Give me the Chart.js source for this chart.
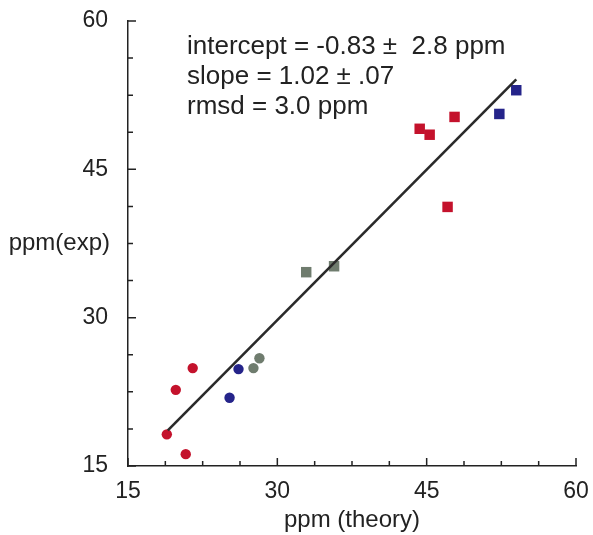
<!DOCTYPE html>
<html>
<head>
<meta charset="utf-8">
<script src="https://cdn.jsdelivr.net/npm/chart.js@4/dist/chart.umd.min.js"></script>
<style>
  html, body { margin: 0; padding: 0; background: #fff; }
  #grafico { display: block; }
</style>
</head>
<body>
<canvas id="grafico" width="593" height="535"></canvas>
<script>
/* ============================
   DATI
============================ */

// ppm (theory) / ppm (exp)
const redCircleX = [18.9, 19.8, 21.5, 20.8];
const redCircleY = [18.2, 22.7, 24.9, 16.2];
const blueCircleX = [25.2, 26.1];
const blueCircleY = [21.9, 24.8];
const grayCircleX = [27.6, 28.2];
const grayCircleY = [24.9, 25.9];

const graySquareX = [32.9, 35.7];
const graySquareY = [34.6, 35.2];
const redSquareX = [44.3, 45.3, 47.8, 47.1];
const redSquareY = [49.1, 48.5, 50.3, 41.2];
const blueSquareX = [52.3, 54.0];
const blueSquareY = [50.6, 53.0];

// fitted line, end points
const fitX = [19.0, 54.0];
const fitY = [18.6, 54.1];

const axisMin = 15;
const axisMax = 60;
const majorTicks = [15, 30, 45, 60];
const minorStep = 3.75;

const fitText = [
  'intercept = -0.83 \u00b1  2.8 ppm',
  'slope = 1.02 \u00b1 .07',
  'rmsd = 3.0 ppm'
];

const RED = '#c4122c';
const BLUE = '#25248a';
const GRAY = '#6f7c6e';
const INK = '#222';
const FONT = "'Liberation Sans', Arial, sans-serif";

function punti(xs, ys) {
  return xs.map((x, i) => ({ x, y: ys[i] }));
}

// labels may hang over the edges, the plot box stays where it is
function noOverflow(s) {
  s.paddingTop = 0;
  s.paddingBottom = 0;
  s.paddingLeft = 0;
  s.paddingRight = 0;
}

/* ============================
   TACCHE INTERNE + TESTI
============================ */

const tacche = {
  id: 'tacche',
  afterDraw(chart) {
    const { ctx, scales: { x, y } } = chart;
    ctx.save();
    ctx.strokeStyle = INK;
    ctx.lineWidth = 1.5;
    ctx.beginPath();
    for (let v = axisMin; v <= axisMax + 0.001; v += minorStep) {
      const len = majorTicks.includes(v) ? 8 : 5;
      const px = x.getPixelForValue(v);
      const py = y.getPixelForValue(v);
      ctx.moveTo(px, y.bottom);
      ctx.lineTo(px, y.bottom - len);
      ctx.moveTo(x.left, py);
      ctx.lineTo(x.left + len, py);
    }
    ctx.stroke();

    // y axis title, level with the 37.5 tick
    ctx.fillStyle = INK;
    ctx.font = '24px ' + FONT;
    ctx.textAlign = 'right';
    ctx.textBaseline = 'middle';
    ctx.fillText('ppm(exp)', x.left - 18, y.getPixelForValue(37.5));

    // fit summary
    ctx.textAlign = 'left';
    ctx.font = '26px ' + FONT;
    fitText.forEach((t, i) => {
      ctx.fillText(t, x.left + 59, y.top + 26 + i * 29.7);
    });
    ctx.restore();
  }
};

/* ============================
   GRAFICO
============================ */

const marker = (data, color, style, r) => ({
  type: 'scatter',
  data,
  pointStyle: style,
  pointRadius: r,
  pointHoverRadius: r,
  pointBackgroundColor: color,
  pointBorderColor: color,
  pointBorderWidth: 0
});

new Chart(document.getElementById('grafico'), {
  type: 'scatter',
  data: {
    datasets: [
      {
        type: 'line',
        data: punti(fitX, fitY),
        borderColor: '#2a2a2a',
        borderWidth: 2.6,
        pointRadius: 0,
        fill: false
      },
      marker(punti(redCircleX, redCircleY), RED, 'circle', 5.2),
      marker(punti(blueCircleX, blueCircleY), BLUE, 'circle', 5.2),
      marker(punti(grayCircleX, grayCircleY), GRAY, 'circle', 5.2),
      marker(punti(graySquareX, graySquareY), GRAY, 'rect', 7.4),
      marker(punti(redSquareX, redSquareY), RED, 'rect', 7.4),
      marker(punti(blueSquareX, blueSquareY), BLUE, 'rect', 7.4)
    ]
  },
  options: {
    responsive: false,
    animation: false,
    events: [],
    layout: { padding: { top: 21, right: 17, left: 0, bottom: 0 } },
    plugins: { legend: { display: false }, tooltip: { enabled: false } },
    scales: {
      x: {
        type: 'linear',
        min: axisMin,
        max: axisMax,
        afterBuildTicks: s => { s.ticks = majorTicks.map(v => ({ value: v })); },
        afterFit: s => { s.height = 69; noOverflow(s); },
        grid: { display: false, drawTicks: false },
        border: { display: true, color: INK, width: 1.5 },
        ticks: { color: INK, font: { family: FONT, size: 23 }, padding: 12, maxRotation: 0 },
        title: {
          display: true,
          text: 'ppm (theory)',
          color: INK,
          font: { family: FONT, size: 24 },
          padding: { top: 0, bottom: 0 }
        }
      },
      y: {
        type: 'linear',
        min: axisMin,
        max: axisMax,
        afterBuildTicks: s => { s.ticks = majorTicks.map(v => ({ value: v })); },
        afterFit: s => { s.width = 128; noOverflow(s); },
        grid: { display: false, drawTicks: false },
        border: { display: true, color: INK, width: 1.5 },
        ticks: { color: INK, font: { family: FONT, size: 23 }, padding: 20 }
      }
    }
  },
  plugins: [tacche]
});
</script>
</body>
</html>
